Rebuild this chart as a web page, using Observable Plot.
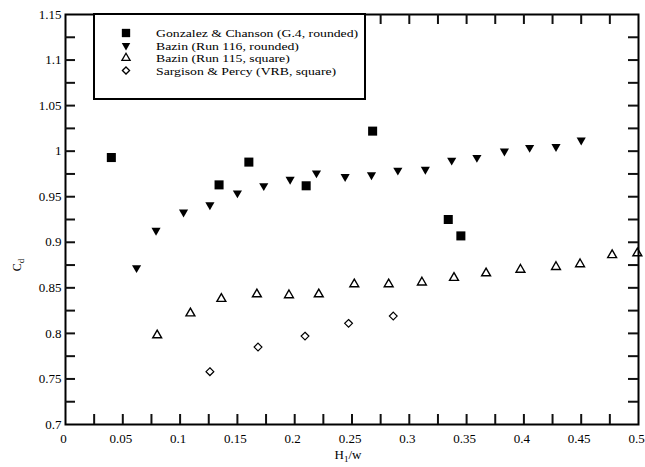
<!DOCTYPE html>
<html>
<head>
<meta charset="utf-8">
<script src="https://cdn.jsdelivr.net/npm/d3@7"></script>
<script src="https://cdn.jsdelivr.net/npm/@observablehq/plot@0.6"></script>
<style>
  body { margin: 0; background: #fff; }
  #chart { position: relative; width: 645px; height: 467px; }
</style>
</head>
<body>
<div id="chart"></div>
<script>
// ---- Data ----
const gonzalezX = [0.040, 0.134, 0.160, 0.210, 0.268, 0.334, 0.345];
const gonzalezY = [0.993, 0.963, 0.988, 0.962, 1.022, 0.925, 0.907];

const bazin116X = [0.062, 0.079, 0.103, 0.126, 0.150, 0.173, 0.196, 0.219, 0.244, 0.267, 0.290, 0.314, 0.337, 0.359, 0.383, 0.405, 0.428, 0.450];
const bazin116Y = [0.872, 0.913, 0.933, 0.941, 0.954, 0.962, 0.969, 0.976, 0.972, 0.974, 0.979, 0.980, 0.990, 0.993, 1.000, 1.004, 1.005, 1.012];

const bazin115X = [0.080, 0.109, 0.136, 0.167, 0.195, 0.221, 0.252, 0.282, 0.311, 0.339, 0.367, 0.397, 0.428, 0.449, 0.477, 0.499];
const bazin115Y = [0.798, 0.822, 0.838, 0.843, 0.842, 0.843, 0.854, 0.854, 0.856, 0.861, 0.866, 0.870, 0.873, 0.876, 0.886, 0.888];

const sargisonX = [0.126, 0.168, 0.209, 0.247, 0.286];
const sargisonY = [0.758, 0.785, 0.797, 0.811, 0.819];

const seriesNames = [
  "Gonzalez & Chanson (G.4, rounded)",
  "Bazin (Run 116, rounded)",
  "Bazin (Run 115, square)",
  "Sargison & Percy (VRB, square)"
];

const xTickLabels = [0, 0.05, 0.1, 0.15, 0.2, 0.25, 0.3, 0.35, 0.4, 0.45, 0.5];
const yTickLabels = [0.7, 0.75, 0.8, 0.85, 0.9, 0.95, 1, 1.05, 1.1, 1.15];
const xTicks = [0.025, 0.05, 0.075, 0.1, 0.125, 0.15, 0.175, 0.2, 0.225, 0.25, 0.275, 0.3, 0.325, 0.35, 0.375, 0.4, 0.425, 0.45, 0.475];
const yTicks = [0.725, 0.75, 0.775, 0.8, 0.825, 0.85, 0.875, 0.9, 0.925, 0.95, 0.975, 1, 1.025, 1.05, 1.075, 1.1, 1.125];

// ---- Build tables ----
const zip = (xs, ys) => xs.map((x, i) => ({x, y: ys[i]}));
const gonzalez = zip(gonzalezX, gonzalezY);
const bazin116 = zip(bazin116X, bazin116Y);
const bazin115 = zip(bazin115X, bazin115Y);
const sargison = zip(sargisonX, sargisonY);

// ---- Layout ----
const W = 645, H = 467;
const mt = 14, mb = 43, ml = 65, mr = 7;
const innerW = W - ml - mr, innerH = H - mt - mb;
const xDom = [0, 0.5], yDom = [0.7, 1.15];
const tickLen = 10;
// tick length expressed in data units so ticks go through Plot's scales
const tx = tickLen / innerW * (xDom[1] - xDom[0]);
const ty = tickLen / innerH * (yDom[1] - yDom[0]);
const fmt = d => String(+d.toFixed(3));
const font = "'Liberation Serif', 'Times New Roman', serif";

const marker = {
  square: {symbol: "square", r: 5.1},
  down: {symbol: "triangle", r: 3.4},
  up: {symbol: "triangle", r: 3.3},
  diamond: {symbol: "diamond2", r: 3.5}
};
const tickStyle = {stroke: "#111", strokeWidth: 2};

const chart = Plot.plot({
  width: W, height: H,
  marginTop: mt, marginBottom: mb, marginLeft: ml, marginRight: mr,
  style: {fontFamily: font, fontSize: "13px", background: "white", color: "black"},
  x: {domain: xDom},
  y: {domain: yDom},
  marks: [
    Plot.axisX(xTickLabels, {tickSize: 0, tickPadding: 9, dx: -2, tickFormat: fmt, label: null, fontSize: 13}),
    Plot.axisY(yTickLabels, {tickSize: 0, tickPadding: 4, tickFormat: fmt, label: null, fontSize: 13}),
    Plot.frame({stroke: "black", strokeWidth: 2}),
    // inward ticks on all four sides
    Plot.ruleX(xTicks, {x: d => d, y1: yDom[0], y2: yDom[0] + ty, ...tickStyle}),
    Plot.ruleX(xTicks, {x: d => d, y1: yDom[1], y2: yDom[1] - ty, ...tickStyle}),
    Plot.ruleY(yTicks, {y: d => d, x1: xDom[0], x2: xDom[0] + tx, ...tickStyle}),
    Plot.ruleY(yTicks, {y: d => d, x1: xDom[1], x2: xDom[1] - tx, ...tickStyle}),
    Plot.dot(gonzalez, {x: "x", y: "y", ...marker.square, fill: "black", stroke: "none"}),
    Plot.dot(bazin116, {x: "x", y: "y", ...marker.down, rotate: 180, fill: "black", stroke: "none"}),
    Plot.dot(bazin115, {x: "x", y: "y", ...marker.up, fill: "none", stroke: "black", strokeWidth: 1.4}),
    Plot.dot(sargison, {x: "x", y: "y", ...marker.diamond, fill: "none", stroke: "black", strokeWidth: 1.2})
  ]
});

document.getElementById("chart").appendChild(chart);
const svg = d3.select(chart);

// ---- Axis titles with subscripts ----
const yTitle = svg.append("text")
  .attr("transform", "translate(21,265) rotate(-90)")
  .attr("text-anchor", "middle")
  .attr("font-family", font).attr("font-size", 12).attr("fill", "black");
yTitle.append("tspan").text("C");
yTitle.append("tspan").attr("font-size", 9).attr("dy", 3).text("d");

const xTitle = svg.append("text")
  .attr("x", 348).attr("y", 459)
  .attr("text-anchor", "middle")
  .attr("font-family", font).attr("font-size", 13).attr("fill", "black");
xTitle.append("tspan").text("H");
xTitle.append("tspan").attr("font-size", 9).attr("dy", 3).text("1");
xTitle.append("tspan").attr("dy", -3).text("/w");

// ---- Legend ----
const lg = svg.append("g");
lg.append("rect")
  .attr("x", 94).attr("y", 14).attr("width", 271).attr("height", 85)
  .attr("fill", "white").attr("stroke", "black").attr("stroke-width", 2);

const legendMarkers = [
  {m: marker.square, rot: 0, fill: "black", stroke: "none"},
  {m: marker.down, rot: 180, fill: "black", stroke: "none"},
  {m: marker.up, rot: 0, fill: "none", stroke: "black"},
  {m: marker.diamond, rot: 0, fill: "none", stroke: "black"}
];
const symMap = {square: d3.symbolSquare, triangle: d3.symbolTriangle, diamond2: d3.symbolDiamond2};
seriesNames.forEach((name, i) => {
  const cy = 33 + i * 12.5;
  const lm = legendMarkers[i];
  lg.append("path")
    .attr("d", d3.symbol(symMap[lm.m.symbol], Math.PI * lm.m.r * lm.m.r * 0.85)())
    .attr("transform", `translate(126,${cy}) rotate(${lm.rot})`)
    .attr("fill", lm.fill).attr("stroke", lm.stroke).attr("stroke-width", 1.3);
  lg.append("g")
    .attr("transform", `translate(156,${cy + 4}) scale(1.25,1)`)
    .append("text")
    .attr("text-anchor", "start")
    .attr("font-family", font).attr("font-size", 11).attr("fill", "black")
    .text(name);
});
</script>
</body>
</html>
